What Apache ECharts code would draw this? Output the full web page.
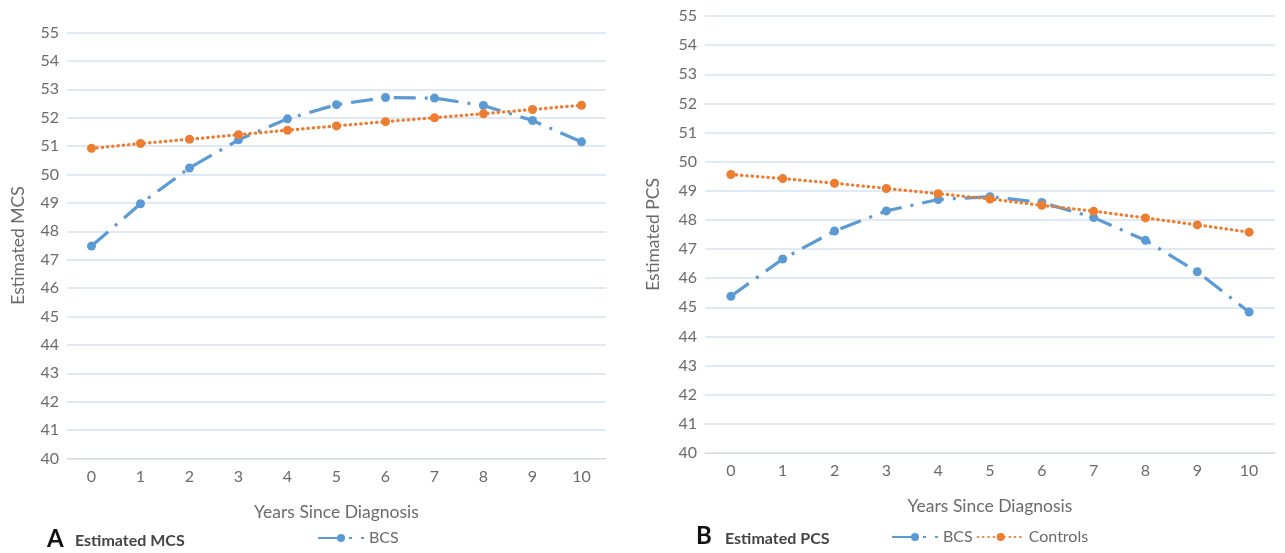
<!DOCTYPE html>
<html>
<head>
<meta charset="utf-8">
<script src="https://cdn.jsdelivr.net/npm/echarts@6/dist/echarts.min.js"></script>
<style>
  html, body { margin: 0; padding: 0; background: #fff; }
  #chart { width: 1285px; height: 553px; }
</style>
</head>
<body>
<div id="chart"></div>
<script>
  const years = ['0', '1', '2', '3', '4', '5', '6', '7', '8', '9', '10'];
  const mcsBcs = [47.48, 48.97, 50.23, 51.22, 51.96, 52.46, 52.71, 52.69, 52.43, 51.9, 51.15];
  const mcsControls = [50.92, 51.09, 51.24, 51.4, 51.56, 51.71, 51.86, 52.0, 52.14, 52.29, 52.44];
  const pcsBcs = [45.38, 46.66, 47.62, 48.31, 48.7, 48.8, 48.6, 48.08, 47.3, 46.22, 44.84];
  const pcsControls = [49.56, 49.42, 49.26, 49.08, 48.9, 48.72, 48.5, 48.3, 48.07, 47.83, 47.58];

  const blue = '#5B9BD5';
  const orange = '#ED7D31';
  const labelColor = '#6b6b6b';
  const font = 'Lato, "Open Sans", sans-serif';

  const chart = echarts.init(document.getElementById('chart'), null, { renderer: 'canvas' });

  function xAxisFor(gridIndex, nameGap) {
    return {
      type: 'category',
      gridIndex,
      data: years,
      boundaryGap: true,
      name: 'Years Since Diagnosis',
      nameLocation: 'middle',
      nameGap,
      nameTextStyle: { color: labelColor, fontSize: 17.5, fontFamily: font },
      axisLine: { lineStyle: { color: '#D9D9D9', width: 1 } },
      axisTick: { show: false },
      axisLabel: { color: labelColor, fontSize: 16, fontFamily: font, margin: 10 },
    };
  }

  function yAxisFor(gridIndex, name, nameGap) {
    return {
      type: 'value',
      gridIndex,
      min: 40,
      max: 55,
      interval: 1,
      name,
      nameLocation: 'middle',
      nameGap,
      nameTextStyle: { color: labelColor, fontSize: 17.5, fontFamily: font },
      axisLine: { show: false },
      axisTick: { show: false },
      axisLabel: { color: labelColor, fontSize: 16, fontFamily: font, margin: 8 },
      splitLine: { lineStyle: { color: '#D6E3F3', width: 1.5 } },
    };
  }

  function bcsSeries(axisIndex, values) {
    return {
      name: 'BCS',
      type: 'line',
      xAxisIndex: axisIndex,
      yAxisIndex: axisIndex,
      data: values,
      symbol: 'circle',
      symbolSize: 9,
      itemStyle: { color: blue },
      lineStyle: { color: blue, width: 3.2, type: [22, 9, 3, 9] },
      emphasis: { disabled: true },
      z: 2,
    };
  }

  function controlsSeries(axisIndex, values) {
    return {
      name: 'Controls',
      type: 'line',
      xAxisIndex: axisIndex,
      yAxisIndex: axisIndex,
      data: values,
      symbol: 'circle',
      symbolSize: 9,
      itemStyle: { color: orange },
      lineStyle: { color: orange, width: 3.2, type: [0.5, 4.8], cap: 'round' },
      emphasis: { disabled: true },
      z: 3,
    };
  }

  const option = {
    animation: false,
    backgroundColor: '#ffffff',
    grid: [
      { left: 67, right: 1285 - 606, top: 32.5, bottom: 553 - 458.5 },
      { left: 705, right: 10, top: 16, bottom: 553 - 453 },
    ],
    xAxis: [xAxisFor(0, 45), xAxisFor(1, 44)],
    yAxis: [yAxisFor(0, 'Estimated MCS', 40), yAxisFor(1, 'Estimated PCS', 43)],
    legend: [
      {
        data: ['BCS'],
        left: 312,
        top: 525,
        itemWidth: 46,
        itemHeight: 10,
        itemGap: 6,
        textStyle: { color: labelColor, fontSize: 16, fontFamily: font },
      },
      {
        data: ['BCS', 'Controls'],
        left: 886,
        top: 524,
        itemWidth: 46,
        itemHeight: 10,
        itemGap: 4,
        textStyle: { color: labelColor, fontSize: 16, fontFamily: font },
      },
    ],
    graphic: [
      { type: 'text', left: 47, top: 527, style: { text: 'A', font: 'bold 24px ' + font, fill: '#111' } },
      { type: 'text', left: 75, top: 533, style: { text: 'Estimated MCS', font: 'bold 16px ' + font, fill: '#444' } },
      { type: 'text', left: 696, top: 524, style: { text: 'B', font: 'bold 24px ' + font, fill: '#111' } },
      { type: 'text', left: 725, top: 531, style: { text: 'Estimated PCS', font: 'bold 16px ' + font, fill: '#444' } },
    ],
    series: [
      bcsSeries(0, mcsBcs),
      controlsSeries(0, mcsControls),
      bcsSeries(1, pcsBcs),
      controlsSeries(1, pcsControls),
    ],
  };

  chart.setOption(option);
</script>
</body>
</html>
